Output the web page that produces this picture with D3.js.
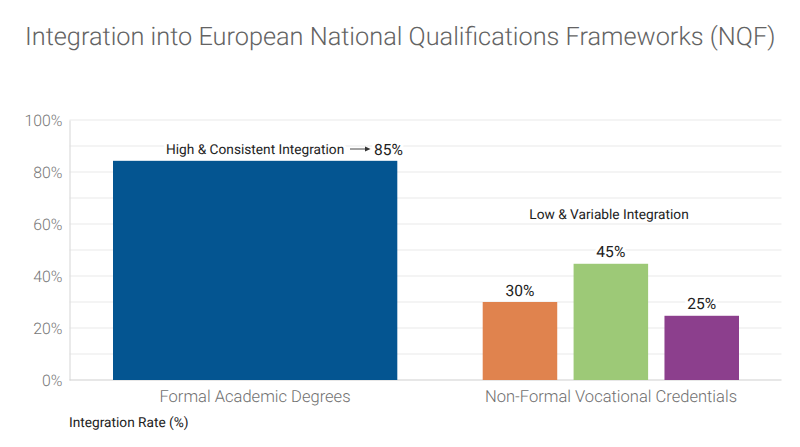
<!DOCTYPE html>
<html>
<head>
<meta charset="utf-8">
<script src="https://cdn.jsdelivr.net/npm/d3@7"></script>
<style>
  html, body { margin: 0; padding: 0; background: #fff; }
  svg { display: block; font-family: Roboto, sans-serif; text-rendering: geometricPrecision; }
  .halo { paint-order: stroke; stroke: #fff; stroke-width: 6px; stroke-linejoin: round; }
</style>
</head>
<body>
<div id="chart"></div>
<script>
var titleText = "Integration into European National Qualifications Frameworks (NQF)";
var yAxisLabel = "Integration Rate (%)";

var categories = ["Formal Academic Degrees", "Non-Formal Vocational Credentials"];

// one list per category, bar height
var formalKeys = ["Academic"];
var formalValues = [84.3];
var formalLabels = ["85%"];
var formalColors = ["#045591"];

var vocationalKeys = ["A", "B", "C"];
var vocationalValues = [30, 44.7, 24.7];
var vocationalLabels = ["30%", "45%", "25%"];
var vocationalColors = ["#e0834e", "#9dc977", "#8c3f8d"];

var yTicks = [0, 20, 40, 60, 80, 100];
var yGrid = [10, 20, 30, 40, 50, 60, 70, 80, 90, 100];

//-----------------------------------------------------------------------

var width = 800, height = 447;
var left = 69.5, right = 781.5, top_ = 120, bottom = 380;

var svg = d3.select("#chart").append("svg")
  .attr("width", width)
  .attr("height", height);

var x = d3.scaleBand().domain(categories).range([77, 789]);
var y = d3.scaleLinear().domain([0, 100]).range([bottom, top_]);

// bars inside each category
var xFormal = d3.scaleBand().domain(formalKeys)
  .range([x(categories[0]) + 36, x(categories[0]) + 320.3]);
var xVocational = d3.scaleBand().domain(vocationalKeys)
  .range([x(categories[1]) + 49.7, x(categories[1]) + 306]).paddingInner(0.18);

// title
svg.append("text")
  .attr("x", 25)
  .attr("y", 45)
  .attr("font-size", 25.3)
  .attr("font-weight", 300)
  .attr("fill", "#636363")
  .text(titleText);

// grid
svg.append("g").selectAll("line")
  .data(yGrid)
  .enter().append("line")
  .attr("x1", left)
  .attr("x2", right)
  .attr("y1", function (d) { return y(d); })
  .attr("y2", function (d) { return y(d); })
  .attr("stroke", "#e9e9e9")
  .attr("stroke-width", 1.2);

// y axis
var yAxis = svg.append("g")
  .attr("transform", "translate(" + left + ",0)")
  .call(d3.axisLeft(y).tickValues(yTicks).tickSize(0).tickPadding(7)
    .tickFormat(function (d) { return d + "%"; }));
yAxis.select(".domain").attr("stroke", "#dcdcdc").attr("stroke-width", 1.2);
yAxis.selectAll("text")
  .attr("font-family", "Roboto, sans-serif")
  .attr("font-size", 15.8)
  .attr("font-weight", 300)
  .attr("fill", "#777");

// x axis
var xAxis = svg.append("g")
  .attr("transform", "translate(0," + bottom + ")")
  .call(d3.axisBottom(x).tickSize(0).tickPadding(10));
xAxis.select(".domain").remove();
xAxis.selectAll("text")
  .attr("font-family", "Roboto, sans-serif")
  .attr("font-size", 16.55)
  .attr("font-weight", 300)
  .attr("fill", "#707070");
svg.append("line")
  .attr("x1", left).attr("x2", right)
  .attr("y1", bottom).attr("y2", bottom)
  .attr("stroke", "#d0d0d0")
  .attr("stroke-width", 1.2);

// bars
function drawBars(scale, keys, values, colors) {
  svg.append("g").selectAll("rect")
    .data(keys)
    .enter().append("rect")
    .attr("x", function (d) { return scale(d); })
    .attr("width", scale.bandwidth())
    .attr("y", function (d, i) { return y(values[i]); })
    .attr("height", function (d, i) { return bottom - y(values[i]); })
    .attr("fill", function (d, i) { return colors[i]; });
}
drawBars(xFormal, formalKeys, formalValues, formalColors);
drawBars(xVocational, vocationalKeys, vocationalValues, vocationalColors);

// value labels
svg.append("g").selectAll("text")
  .data(vocationalKeys)
  .enter().append("text")
  .attr("class", "halo")
  .attr("x", function (d) { return xVocational(d) + xVocational.bandwidth() / 2; })
  .attr("y", function (d, i) { return y(vocationalValues[i]) - 6.5; })
  .attr("text-anchor", "middle")
  .attr("font-size", 15.6)
  .attr("fill", "#222")
  .text(function (d, i) { return vocationalLabels[i]; });

svg.append("text")
  .attr("class", "halo")
  .attr("x", 374)
  .attr("y", y(formalValues[0]) - 6)
  .attr("font-size", 15.6)
  .attr("fill", "#222")
  .text(formalLabels[0]);

// annotations
svg.append("text")
  .attr("class", "halo")
  .attr("x", 166)
  .attr("y", 154)
  .attr("font-size", 13.7)
  .attr("fill", "#222")
  .text("High & Consistent Integration");

svg.append("path")
  .attr("d", d3.line()([[350, 149], [366, 149]]))
  .attr("stroke", "#444")
  .attr("stroke-width", 1)
  .attr("fill", "none");
svg.append("path")
  .attr("d", d3.line()([[365, 146.6], [370.5, 149], [365, 151.4]]) + "Z")
  .attr("fill", "#333");

svg.append("text")
  .attr("x", 609)
  .attr("y", 219)
  .attr("text-anchor", "middle")
  .attr("font-size", 13.7)
  .attr("fill", "#222")
  .text("Low & Variable Integration");

svg.append("text")
  .attr("x", 69)
  .attr("y", 427)
  .attr("font-size", 13.7)
  .attr("fill", "#222")
  .text(yAxisLabel);
</script>
</body>
</html>
